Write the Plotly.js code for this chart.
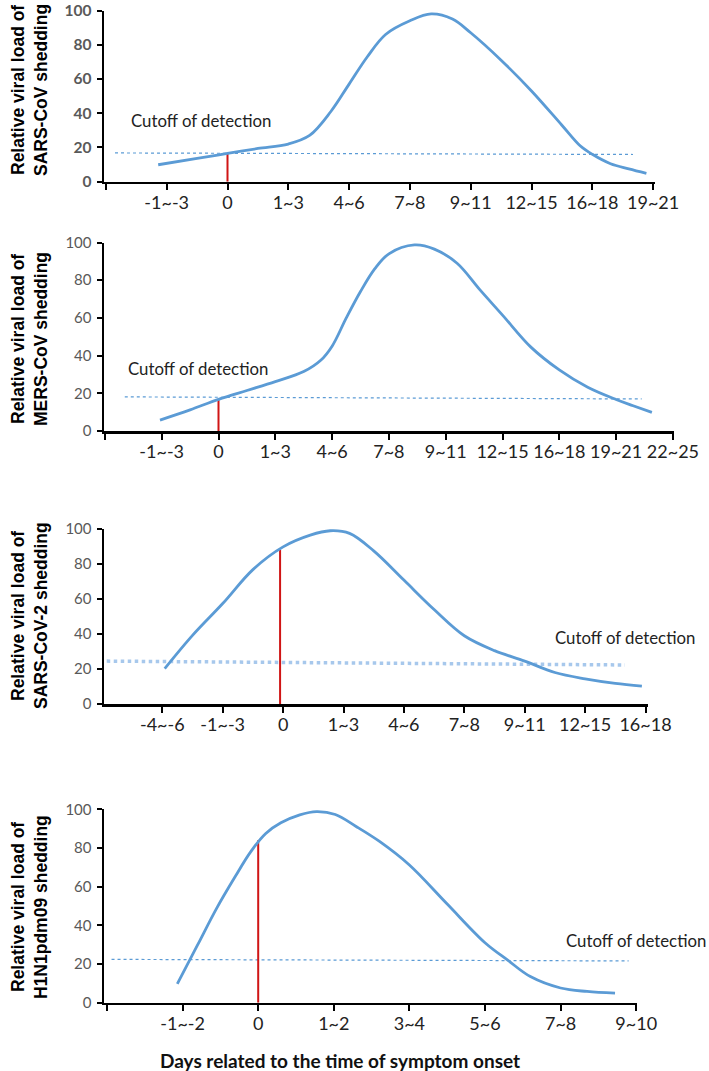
<!DOCTYPE html>
<html><head><meta charset="utf-8">
<script src="https://cdn.plot.ly/plotly-3.0.1.min.js"></script>
<style>html,body{margin:0;padding:0;background:#fff;overflow:hidden}</style>
</head><body><div id="chart" style="width:709px;height:1071px"></div>
<script>
// ---------------- data ----------------
// x values are positions along each panel's category axis (0 = first category)
const sarsLabels = ['-1~-3','0','1~3','4~6','7~8','9~11','12~15','16~18','19~21'];
const sarsX = [-0.14, 0.5, 1.0, 1.5, 2.0, 2.35, 2.7, 3.0, 3.3, 3.6, 4.0, 4.35, 4.7, 5.0, 5.5, 6.0, 6.5, 6.8, 7.0, 7.3, 7.6, 7.89];
const sarsY = [9.9, 13.6, 16.5, 19.4, 22, 27, 41, 57, 73, 86, 94, 98, 95, 87, 71, 53, 33, 21, 16, 10.5, 7.5, 4.9];
const sarsOnset = [1.0, 16.5];
const sarsCutX = [-0.85, 7.67];
const sarsCutY = [16.8, 15.9];

const mersLabels = ['-1~-3','0','1~3','4~6','7~8','9~11','12~15','16~18','19~21','22~25'];
const mersX = [-0.03, 0.5, 1.0, 1.5, 2.0, 2.5, 2.8, 3.0, 3.25, 3.5, 3.75, 4.0, 4.45, 4.8, 5.2, 5.6, 6.0, 6.5, 7.0, 7.5, 8.0, 8.3, 8.63];
const mersY = [5.8, 11.2, 16.8, 21.5, 26.2, 31.5, 37.5, 45, 60, 74, 86, 94, 98.7, 96.5, 89, 75, 61.5, 44.5, 32.4, 23.2, 16.7, 13.4, 9.9];
const mersOnset = [1.0, 16.8];
const mersCutX = [-0.65, 8.45];
const mersCutY = [18.1, 17.0];

const cov2Labels = ['-4~-6','-1~-3','0','1~3','4~6','7~8','9~11','12~15','16~18'];
const cov2X = [0.04, 0.5, 1.0, 1.5, 2.0, 2.45, 2.78, 3.1, 3.5, 4.0, 4.5, 5.0, 5.5, 6.0, 6.5, 7.0, 7.5, 7.94];
const cov2Y = [20.2, 39.2, 57.4, 76.8, 89.8, 96.5, 99, 97.5, 87.5, 70.8, 54, 39, 30.5, 24.5, 18, 14.4, 11.8, 10.2];
const cov2Onset = [1.95, 88];
const cov2CutX = [-0.92, 7.66];
const cov2CutY = [24.5, 22.3];

const h1n1Labels = ['-1~-2','0','1~2','3~4','5~6','7~8','9~10'];
const h1n1X = [-0.07, 0.2, 0.45, 0.7, 0.9, 1.1, 1.3, 1.55, 1.77, 2.02, 2.3, 2.6, 3.0, 3.5, 4.0, 4.3, 4.6, 5.0, 5.35, 5.72];
const h1n1Y = [9.7, 30, 48.8, 65.5, 78, 87.5, 93, 97.1, 98.8, 97.3, 91, 83.5, 71.2, 51, 31, 22, 13.5, 7.6, 5.8, 4.9];
const h1n1Onset = [1.0, 84];
const h1n1CutX = [-0.94, 5.9];
const h1n1CutY = [22.4, 21.6];

const yTicks = [0, 20, 40, 60, 80, 100];
const yTitles = [
  ['Relative viral load of', 'SARS-CoV shedding'],
  ['Relative viral load of', 'MERS-CoV shedding'],
  ['Relative viral load of', 'SARS-CoV-2 shedding'],
  ['Relative viral load of', 'H1N1pdm09 shedding']
];
const cutoffText = 'Cutoff of detection';
const xTitle = 'Days related to the time of symptom onset';

// ---------------- layout geometry (pixels) ----------------
const W = 709, H = 1071;
const fx = p => p / W, fy = p => 1 - p / H;
const panels = [
  {labels: sarsLabels, x: sarsX, y: sarsY, onset: sarsOnset, cutX: sarsCutX, cutY: sarsCutY,
   p0: 166.7, s: 60.8, a: 104, b: 655, y0: 181.7, y100: 10.5, cutW: 1.2,
   tx: 129, ty: 120, tc: 90, yfont: {family: 'Lato, sans-serif', size: 15.5, color: '#595959', weight: 'bold'}},
  {labels: mersLabels, x: mersX, y: mersY, onset: mersOnset, cutX: mersCutX, cutY: mersCutY,
   p0: 161.7, s: 56.8, a: 104, b: 674, y0: 431, y100: 242.5, cutW: 1.2,
   tx: 126, ty: 368, tc: 339, yfont: {family: 'Lato, sans-serif', size: 15, color: '#595959'}},
  {labels: cov2Labels, x: cov2X, y: cov2Y, onset: cov2Onset, cutX: cov2CutX, cutY: cov2CutY,
   p0: 162.3, s: 60.4, a: 104, b: 648, y0: 704, y100: 529, cutW: 3.5,
   tx: 553, ty: 637, tc: 616, yfont: {family: 'Lato, sans-serif', size: 15, color: '#595959'}},
  {labels: h1n1Labels, x: h1n1X, y: h1n1Y, onset: h1n1Onset, cutX: h1n1CutX, cutY: h1n1CutY,
   p0: 182.6, s: 75.6, a: 104, b: 637, y0: 1002.7, y100: 809.3, cutW: 1.2,
   tx: 564, ty: 940, tc: 907, yfont: {family: 'Lato, sans-serif', size: 15, color: '#595959'}}
];

const traces = [];
const layout = {
  width: W, height: H, margin: {l: 0, r: 0, t: 0, b: 0},
  paper_bgcolor: '#fff', plot_bgcolor: 'rgba(0,0,0,0)', showlegend: false,
  annotations: [], font: {family: 'Lato, sans-serif', color: '#222'}
};

panels.forEach((p, i) => {
  const k = i + 1, xa = 'x' + k, ya = 'y' + k;
  const r0 = (p.a - p.p0) / p.s, r1 = (p.b - p.p0) / p.s;
  const tv = [], tt = [];
  if (r0 <= -1) { tv.push(-1); tt.push(''); }
  p.labels.forEach((l, j) => { tv.push(j); tt.push(l); });
  layout['xaxis' + k] = {
    domain: [fx(p.a), fx(p.b)], range: [r0, r1], anchor: ya,
    showline: true, linecolor: '#000', linewidth: 2.5, ticks: 'outside', ticklen: 6, tickwidth: 2, tickcolor: '#000',
    tickvals: tv, ticktext: tt, showgrid: false, zeroline: false, fixedrange: true,
    tickfont: {family: 'Lato, sans-serif', size: 18, color: '#222'}, ticklabelstandoff: -3
  };
  layout['yaxis' + k] = {
    domain: [fy(p.y0), fy(p.y100)], range: [0, 100], anchor: xa,
    showline: true, linecolor: '#000', linewidth: 2.5, ticks: 'outside', ticklen: 5, tickwidth: 2, tickcolor: '#000',
    tickvals: yTicks, showgrid: false, zeroline: false, fixedrange: true, ticklabeloverflow: 'allow',
    tickfont: p.yfont, ticklabelstandoff: 2
  };
  traces.push({x: p.cutX, y: p.cutY, xaxis: xa, yaxis: ya, mode: 'lines', hoverinfo: 'skip',
    line: {color: i === 2 ? '#a7c8ec' : '#5b9bd5', width: p.cutW, dash: 'dot'}});
  traces.push({x: [p.onset[0], p.onset[0]], y: [0, p.onset[1]], xaxis: xa, yaxis: ya, mode: 'lines', hoverinfo: 'skip',
    line: {color: '#d01515', width: 2}});
  traces.push({x: p.x, y: p.y, xaxis: xa, yaxis: ya, mode: 'lines', hoverinfo: 'skip',
    line: {color: '#5b9bd5', width: 2.8, shape: 'spline', smoothing: 1}});
  layout.annotations.push({text: cutoffText, xref: 'paper', yref: 'paper', x: fx(p.tx), y: fy(p.ty),
    xanchor: 'left', yanchor: 'middle', showarrow: false, font: {family: 'Lato, sans-serif', size: 16.8, color: '#222'}});
  layout.annotations.push({text: yTitles[i][0], xref: 'paper', yref: 'paper', x: fx(18), y: fy(p.tc),
    textangle: -90, xanchor: 'center', yanchor: 'middle', showarrow: false,
    font: {family: 'Liberation Sans, Arial, sans-serif', size: 17.5, color: '#000', weight: 'bold'}});
  layout.annotations.push({text: yTitles[i][1], xref: 'paper', yref: 'paper', x: fx(41), y: fy(p.tc),
    textangle: -90, xanchor: 'center', yanchor: 'middle', showarrow: false,
    font: {family: 'Liberation Sans, Arial, sans-serif', size: 17.5, color: '#000', weight: 'bold'}});
});

layout.annotations.push({text: xTitle, xref: 'paper', yref: 'paper', x: fx(340), y: fy(1060),
  xanchor: 'center', yanchor: 'middle', showarrow: false,
  font: {family: 'Lato, sans-serif', size: 19, color: '#111', weight: 'bold'}});

Plotly.newPlot('chart', traces, layout, {staticPlot: true, displayModeBar: false});
</script>
</body></html>
